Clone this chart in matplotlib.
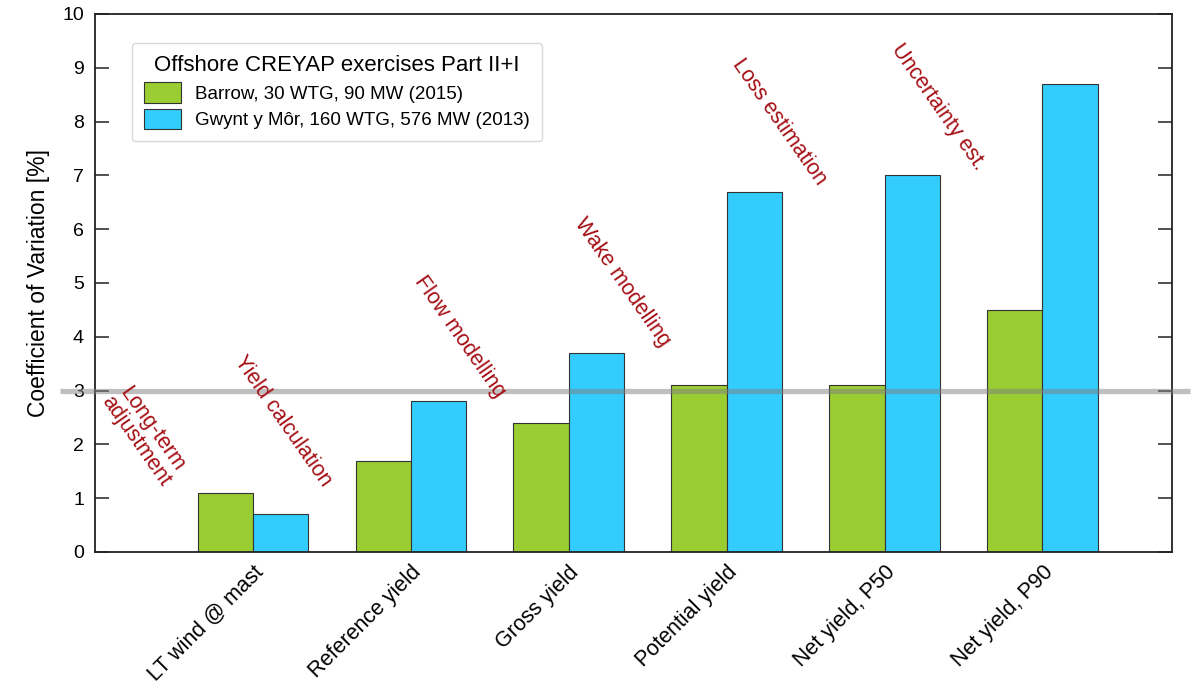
import matplotlib
matplotlib.use("Agg")
import matplotlib.pyplot as plt
from matplotlib.transforms import blended_transform_factory
import numpy as np

plt.rcParams['font.family'] = ['Liberation Sans', 'DejaVu Sans']

categories = ["LT wind @ mast", "Reference yield", "Gross yield",
              "Potential yield", "Net yield, P50", "Net yield, P90"]
barrow = [1.1, 1.7, 2.4, 3.1, 3.1, 4.5]
gwynt = [0.7, 2.8, 3.7, 6.7, 7.0, 8.7]
series_labels = ["Barrow, 30 WTG, 90 MW (2015)",
                 "Gwynt y Môr, 160 WTG, 576 MW (2013)"]
legend_title = "Offshore CREYAP exercises Part II+I"

stage_labels = ["Long-term\nadjustment", "Yield calculation", "Flow modelling",
                "Wake modelling", "Loss estimation", "Uncertainty est."]
stage_x = [0.31, 1.19, 2.31, 3.34, 4.33, 5.34]
stage_y = [2.17, 2.43, 4.01, 5.02, 7.99, 8.27]
threshold = 3

fig = plt.figure(figsize=(11.92, 6.88), dpi=100)
ax = fig.add_axes([0.0797, 0.1977, 0.9035, 0.782])

x = np.arange(1, len(categories) + 1)
w = 0.35
ax.bar(x - w / 2, barrow, w, color='#9ACD32', edgecolor='#333333', linewidth=0.8,
       label=series_labels[0], zorder=2)
ax.bar(x + w / 2, gwynt, w, color='#33CCFF', edgecolor='#333333', linewidth=0.8,
       label=series_labels[1], zorder=2)

ax.set_xlim(0, 6.82)
ax.set_ylim(0, 10)
ax.set_yticks(range(0, 11))
ax.set_xticks(x)
ax.set_xticklabels(categories, rotation=45, ha='right', rotation_mode='anchor',
                   fontsize=15.5)
ax.tick_params(axis='x', length=0, pad=7)
ax.tick_params(axis='y', direction='in', length=10, width=1.2, right=True,
               labelsize=14, pad=8, color='#333333')
for s in ax.spines.values():
    s.set_linewidth(1.3)
    s.set_color('#222222')
ax.set_ylabel("Coefficient of Variation [%]", fontsize=16.5, labelpad=9)

trans = blended_transform_factory(fig.transFigure, ax.transData)
ax.plot([0.05, 0.998], [threshold, threshold], transform=trans, color='#808080',
        alpha=0.5, linewidth=3.8, clip_on=False, zorder=5, solid_capstyle='butt')

for lbl, sx, sy in zip(stage_labels, stage_x, stage_y):
    ax.text(sx, sy, lbl, rotation=-55, color='#A50F15', fontsize=15.5,
            ha='center', va='center', rotation_mode='anchor',
            multialignment='center', linespacing=0.95, zorder=6)

leg = ax.legend(title=legend_title, loc='upper left', borderaxespad=0,
                bbox_to_anchor=(0.034, 0.946), fontsize=13.5, title_fontsize=16,
                frameon=True, fancybox=True, handlelength=2.0, handleheight=1.3,
                handletextpad=0.75, borderpad=0.65, labelspacing=0.32)
leg.get_frame().set_edgecolor('#D0D0D0')
leg.get_frame().set_linewidth(1.0)
leg._legend_box.align = "center"

fig.savefig("out.png", dpi=100)
